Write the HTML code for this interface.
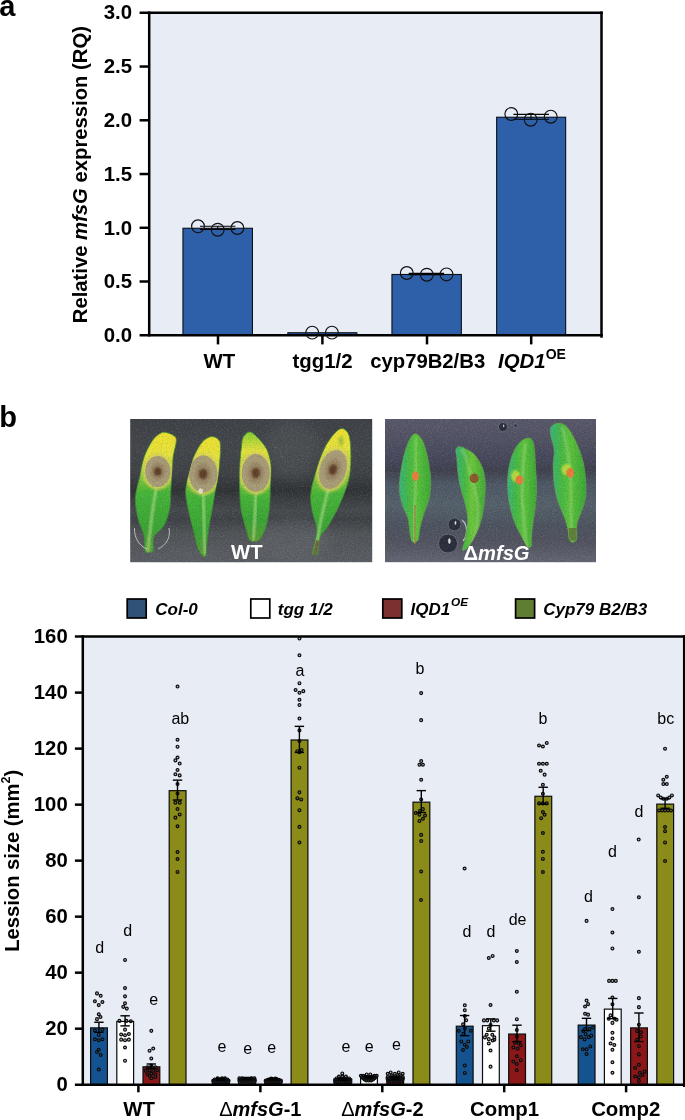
<!DOCTYPE html>
<html lang="en"><head><meta charset="utf-8"><title>Figure</title>
<style>
html,body{margin:0;padding:0;background:#fff}
svg{display:block}
svg text{font-family:"Liberation Sans", sans-serif}
</style></head>
<body>
<svg width="685" height="1120" viewBox="0 0 685 1120">
<rect width="685" height="1120" fill="#fff"/>
<g id="chartA">
<rect x="149.2" y="12.8" width="452.3" height="322.45" fill="#E8ECF5"/>
<rect x="182.95" y="228.27" width="69.5" height="106.98" fill="#2E5FA9" stroke="#0b0f18" stroke-width="1.1"/>
<rect x="287.85" y="332.74" width="69" height="2.51" fill="#2E5FA9" stroke="#0b0f18" stroke-width="1.1"/>
<rect x="391.95" y="274.48" width="69.4" height="60.77" fill="#2E5FA9" stroke="#0b0f18" stroke-width="1.1"/>
<rect x="496.65" y="117.24" width="69" height="218.01" fill="#2E5FA9" stroke="#0b0f18" stroke-width="1.1"/>
<line x1="200" y1="226.3" x2="235.4" y2="226.3" stroke="#000" stroke-width="1.1" stroke-linecap="butt"/>
<line x1="200" y1="229.4" x2="235.4" y2="229.4" stroke="#000" stroke-width="1.1" stroke-linecap="butt"/>
<line x1="217.7" y1="226.3" x2="217.7" y2="229.4" stroke="#000" stroke-width="1.1" stroke-linecap="butt"/>
<line x1="408.7" y1="273.5" x2="444.1" y2="273.5" stroke="#000" stroke-width="1.3" stroke-linecap="butt"/>
<line x1="408.7" y1="274.6" x2="444.1" y2="274.6" stroke="#000" stroke-width="1.3" stroke-linecap="butt"/>
<line x1="426.8" y1="273.5" x2="426.8" y2="274.6" stroke="#000" stroke-width="1.3" stroke-linecap="butt"/>
<line x1="513.4" y1="114.4" x2="548.9" y2="114.4" stroke="#000" stroke-width="1.1" stroke-linecap="butt"/>
<line x1="513.4" y1="119.3" x2="548.9" y2="119.3" stroke="#000" stroke-width="1.1" stroke-linecap="butt"/>
<line x1="531" y1="114.4" x2="531" y2="119.3" stroke="#000" stroke-width="1.1" stroke-linecap="butt"/>
<line x1="149.2" y1="11.55" x2="149.2" y2="336.5" stroke="#000" stroke-width="2.5" stroke-linecap="butt"/>
<line x1="139.6" y1="12.8" x2="602.75" y2="12.8" stroke="#000" stroke-width="2.5" stroke-linecap="butt"/>
<line x1="601.5" y1="11.55" x2="601.5" y2="337.7" stroke="#000" stroke-width="2.5" stroke-linecap="butt"/>
<line x1="139.6" y1="335.25" x2="602.75" y2="335.25" stroke="#000" stroke-width="2.5" stroke-linecap="butt"/>
<text x="132.1" y="342.15" font-size="20.4" font-weight="bold" text-anchor="end" fill="#000">0.0</text>
<line x1="139.6" y1="281.51" x2="149.2" y2="281.51" stroke="#000" stroke-width="2.5" stroke-linecap="butt"/>
<text x="132.1" y="288.31" font-size="20.4" font-weight="bold" text-anchor="end" fill="#000">0.5</text>
<line x1="139.6" y1="227.77" x2="149.2" y2="227.77" stroke="#000" stroke-width="2.5" stroke-linecap="butt"/>
<text x="132.1" y="234.57" font-size="20.4" font-weight="bold" text-anchor="end" fill="#000">1.0</text>
<line x1="139.6" y1="174.03" x2="149.2" y2="174.03" stroke="#000" stroke-width="2.5" stroke-linecap="butt"/>
<text x="132.1" y="180.83" font-size="20.4" font-weight="bold" text-anchor="end" fill="#000">1.5</text>
<line x1="139.6" y1="120.28" x2="149.2" y2="120.28" stroke="#000" stroke-width="2.5" stroke-linecap="butt"/>
<text x="132.1" y="126.58" font-size="20.4" font-weight="bold" text-anchor="end" fill="#000">2.0</text>
<line x1="139.6" y1="66.54" x2="149.2" y2="66.54" stroke="#000" stroke-width="2.5" stroke-linecap="butt"/>
<text x="132.1" y="72.84" font-size="20.4" font-weight="bold" text-anchor="end" fill="#000">2.5</text>
<text x="132.1" y="19.1" font-size="20.4" font-weight="bold" text-anchor="end" fill="#000">3.0</text>
<line x1="218" y1="335.25" x2="218" y2="344.4" stroke="#000" stroke-width="2.5" stroke-linecap="butt"/>
<line x1="322.4" y1="335.25" x2="322.4" y2="344.4" stroke="#000" stroke-width="2.5" stroke-linecap="butt"/>
<line x1="427" y1="335.25" x2="427" y2="344.4" stroke="#000" stroke-width="2.5" stroke-linecap="butt"/>
<line x1="531.2" y1="335.25" x2="531.2" y2="344.4" stroke="#000" stroke-width="2.5" stroke-linecap="butt"/>
<circle cx="198" cy="226.3" r="6.4" fill="none" stroke="#111" stroke-width="1.15"/>
<circle cx="217.7" cy="229.7" r="6.4" fill="none" stroke="#111" stroke-width="1.15"/>
<circle cx="237.4" cy="228" r="6.4" fill="none" stroke="#111" stroke-width="1.15"/>
<circle cx="312.2" cy="332.6" r="6.4" fill="none" stroke="#111" stroke-width="1.15"/>
<circle cx="331.9" cy="332.6" r="6.4" fill="none" stroke="#111" stroke-width="1.15"/>
<circle cx="406.8" cy="273" r="6.4" fill="none" stroke="#111" stroke-width="1.15"/>
<circle cx="426.8" cy="274.7" r="6.4" fill="none" stroke="#111" stroke-width="1.15"/>
<circle cx="446.5" cy="274.4" r="6.4" fill="none" stroke="#111" stroke-width="1.15"/>
<circle cx="511.3" cy="114" r="6.4" fill="none" stroke="#111" stroke-width="1.15"/>
<circle cx="530.7" cy="119.7" r="6.4" fill="none" stroke="#111" stroke-width="1.15"/>
<circle cx="550.7" cy="116.7" r="6.4" fill="none" stroke="#111" stroke-width="1.15"/>
<text x="219.3" y="368.1" font-size="20.4" font-weight="bold" text-anchor="middle" fill="#000">WT</text>
<text x="322.6" y="368.1" font-size="20.4" font-weight="bold" text-anchor="middle" fill="#000">tgg1/2</text>
<text x="427.7" y="368.1" font-size="20.3" font-weight="bold" text-anchor="middle" fill="#000">cyp79B2/B3</text>
<text x="532" y="367.9" font-size="20.4" font-weight="bold" text-anchor="middle"><tspan font-style="italic">IQD1</tspan><tspan font-size="14" dy="-8.5">OE</tspan></text>
<text transform="translate(87.2,323.2) rotate(-90)" font-size="20.25" font-weight="bold">Relative <tspan font-style="italic">mfsG</tspan> expression (RQ)</text>
<text x="-0.7" y="15.7" font-size="29" font-weight="bold" text-anchor="start" fill="#000">a</text>
</g>
<g id="photos">
<defs>
<filter id="bl1" x="-10%" y="-10%" width="120%" height="120%"><feGaussianBlur stdDeviation="0.7"/></filter>
<filter id="bl2" x="-30%" y="-30%" width="160%" height="160%"><feGaussianBlur stdDeviation="2.2"/></filter>
<filter id="bl3" x="-30%" y="-30%" width="160%" height="160%"><feGaussianBlur stdDeviation="1.2"/></filter>
<filter id="bl6" x="-30%" y="-30%" width="160%" height="160%"><feGaussianBlur stdDeviation="6"/></filter>
<linearGradient id="bgA" x1="0" y1="0" x2="0" y2="1"><stop offset="0" stop-color="#3e4146"/><stop offset="0.2" stop-color="#43464a"/><stop offset="0.38" stop-color="#3f4245"/><stop offset="0.5" stop-color="#303335"/><stop offset="0.56" stop-color="#3b3e41"/><stop offset="0.64" stop-color="#46494d"/><stop offset="0.7" stop-color="#3e4145"/><stop offset="0.8" stop-color="#505357"/><stop offset="1" stop-color="#5a5d63"/></linearGradient>
<linearGradient id="bgB" x1="0" y1="0" x2="0" y2="1"><stop offset="0" stop-color="#58586b"/><stop offset="0.15" stop-color="#505162"/><stop offset="0.28" stop-color="#46475b"/><stop offset="0.36" stop-color="#40414e"/><stop offset="0.46" stop-color="#4e5866"/><stop offset="0.6" stop-color="#54606a"/><stop offset="0.75" stop-color="#4c535f"/><stop offset="0.86" stop-color="#51535f"/><stop offset="1" stop-color="#636573"/></linearGradient>
<filter id="nz" x="0" y="0" width="100%" height="100%"><feTurbulence type="fractalNoise" baseFrequency="0.8" numOctaves="2" seed="3" result="t"/><feColorMatrix in="t" type="matrix" values="0 0 0 0 1  0 0 0 0 1  0 0 0 0 1  1.6 0 0 0 -0.78"/></filter><filter id="nzk" x="0" y="0" width="100%" height="100%"><feTurbulence type="fractalNoise" baseFrequency="0.8" numOctaves="2" seed="11" result="t"/><feColorMatrix in="t" type="matrix" values="0 0 0 0 0  0 0 0 0 0  0 0 0 0 0  1.6 0 0 0 -0.78"/></filter>
<clipPath id="cpA"><rect x="130.2" y="419" width="242" height="143.2"/></clipPath>
<clipPath id="cpB"><rect x="385" y="419" width="211" height="143.2"/></clipPath>
</defs>
<rect x="130.2" y="419" width="242" height="143.2" fill="url(#bgA)"/>
<g clip-path="url(#cpA)">
<ellipse cx="292" cy="448" rx="26" ry="30" fill="#5a5e62" opacity="0.35" filter="url(#bl6)"/>
<ellipse cx="292" cy="540" rx="40" ry="22" fill="#666a70" opacity="0.45" filter="url(#bl6)"/>
<ellipse cx="200" cy="556" rx="60" ry="8" fill="#5c6066" opacity="0.6" filter="url(#bl6)"/>
<linearGradient id="lgA1" gradientUnits="userSpaceOnUse" x1="0" y1="432.4" x2="0" y2="552.3"><stop offset="0" stop-color="#ecdf2e"/><stop offset="0.19" stop-color="#e6e23c"/><stop offset="0.50" stop-color="#46b438"/><stop offset="0.8" stop-color="#39a434"/><stop offset="1" stop-color="#5a9a38"/></linearGradient>
<clipPath id="lcA1"><path d="M165.8,432.4C168.2,432.8 173,434.5 174.7,436.2C176.5,437.8 176.5,439 176.2,442.3C176,445.5 174.1,450.5 173.4,455.5C172.7,460.6 172.3,466.9 171.9,472.6C171.5,478.3 171.3,483.7 170.9,489.7C170.5,495.7 170.8,502.7 169.6,508.7C168.4,514.7 166.5,521.1 163.9,525.8C161.3,530.5 155.6,532.7 153.8,536.8C152.1,540.9 154.3,547.9 153.5,550.4C152.6,553 150.1,552.3 148.7,552.3C147.3,552.3 145.7,553.3 144.9,550.4C144.1,547.6 145.1,540.6 144,535.3C142.8,529.9 139.3,524.5 137.9,518.2C136.5,511.9 135.1,504.3 135.4,497.3C135.8,490.3 138.4,483.1 139.8,476.4C141.2,469.8 141.9,463.5 144,457.4C146.1,451.4 149.8,444.4 152.5,440.4C155.2,436.4 157.9,434.9 160.1,433.5C162.3,432.2 163.4,432 165.8,432.4Z"/></clipPath>
<g filter="url(#bl1)"><path d="M165.8,432.4C168.2,432.8 173,434.5 174.7,436.2C176.5,437.8 176.5,439 176.2,442.3C176,445.5 174.1,450.5 173.4,455.5C172.7,460.6 172.3,466.9 171.9,472.6C171.5,478.3 171.3,483.7 170.9,489.7C170.5,495.7 170.8,502.7 169.6,508.7C168.4,514.7 166.5,521.1 163.9,525.8C161.3,530.5 155.6,532.7 153.8,536.8C152.1,540.9 154.3,547.9 153.5,550.4C152.6,553 150.1,552.3 148.7,552.3C147.3,552.3 145.7,553.3 144.9,550.4C144.1,547.6 145.1,540.6 144,535.3C142.8,529.9 139.3,524.5 137.9,518.2C136.5,511.9 135.1,504.3 135.4,497.3C135.8,490.3 138.4,483.1 139.8,476.4C141.2,469.8 141.9,463.5 144,457.4C146.1,451.4 149.8,444.4 152.5,440.4C155.2,436.4 157.9,434.9 160.1,433.5C162.3,432.2 163.4,432 165.8,432.4Z" fill="url(#lgA1)" stroke="#3c8a34" stroke-width="0.8"/>
<g clip-path="url(#lcA1)">
<path d="M157,485C157.7,478.8 153.5,503.8 152,515C150.5,526.2 147.2,557 148,552" fill="none" stroke="#b4e08a" stroke-width="2.4" opacity="0.8" filter="url(#bl3)"/>
<ellipse cx="157.8" cy="471.5" rx="15.6" ry="18.5" fill="#d9d05a" opacity="0.8" filter="url(#bl3)" transform="rotate(0 157.8 471.5)"/>
<ellipse cx="157.8" cy="471.5" rx="12.6" ry="15.5" fill="#a89c76" filter="url(#bl1)" transform="rotate(0 157.8 471.5)"/>
<ellipse cx="157.8" cy="471.5" rx="7.6" ry="9" fill="#9a8866" filter="url(#bl3)" transform="rotate(0 157.8 471.5)"/>
<ellipse cx="157.8" cy="471.5" rx="3.8" ry="4.3" fill="#5e3c28" filter="url(#bl3)" transform="rotate(0 157.8 471.5)"/>
</g></g>
<linearGradient id="lgA2" gradientUnits="userSpaceOnUse" x1="0" y1="436.6" x2="0" y2="555.8"><stop offset="0" stop-color="#ecdf2e"/><stop offset="0.18" stop-color="#e6e23c"/><stop offset="0.50" stop-color="#46b438"/><stop offset="0.8" stop-color="#39a434"/><stop offset="1" stop-color="#5a9a38"/></linearGradient>
<clipPath id="lcA2"><path d="M211.4,436.6C214.1,436.3 217.4,438.1 218.9,440C220.5,441.9 220.3,444.7 220.5,448C220.6,451.2 220.3,454.6 219.9,459.3C219.5,464.1 218.8,471 218,476.4C217.2,481.8 216.1,486.2 215.1,491.6C214.2,497 213.3,503.3 212.3,508.7C211.4,514.1 210.3,518.2 209.5,523.9C208.6,529.6 207.6,537.6 207,542.9C206.4,548.1 206.7,553 206,555.2C205.3,557.3 204.1,556.9 202.8,555.8C201.5,554.7 199.7,553.2 198.1,548.5C196.4,543.9 194.4,534.3 192.8,527.7C191.1,521 189.2,515 188,508.7C186.8,502.4 185.4,496 185.7,489.7C186,483.4 188.4,476.6 189.9,470.7C191.4,464.9 192.8,459.4 194.8,454.6C196.9,449.8 199.7,444.9 202.4,441.9C205.2,438.9 208.6,436.9 211.4,436.6Z"/></clipPath>
<g filter="url(#bl1)"><path d="M211.4,436.6C214.1,436.3 217.4,438.1 218.9,440C220.5,441.9 220.3,444.7 220.5,448C220.6,451.2 220.3,454.6 219.9,459.3C219.5,464.1 218.8,471 218,476.4C217.2,481.8 216.1,486.2 215.1,491.6C214.2,497 213.3,503.3 212.3,508.7C211.4,514.1 210.3,518.2 209.5,523.9C208.6,529.6 207.6,537.6 207,542.9C206.4,548.1 206.7,553 206,555.2C205.3,557.3 204.1,556.9 202.8,555.8C201.5,554.7 199.7,553.2 198.1,548.5C196.4,543.9 194.4,534.3 192.8,527.7C191.1,521 189.2,515 188,508.7C186.8,502.4 185.4,496 185.7,489.7C186,483.4 188.4,476.6 189.9,470.7C191.4,464.9 192.8,459.4 194.8,454.6C196.9,449.8 199.7,444.9 202.4,441.9C205.2,438.9 208.6,436.9 211.4,436.6Z" fill="url(#lgA2)" stroke="#3c8a34" stroke-width="0.8"/>
<g clip-path="url(#lcA2)">
<path d="M203,490C202.8,484.5 203.7,509.5 204,520C204.3,530.5 205.2,558 205,553" fill="none" stroke="#b4e08a" stroke-width="2.4" opacity="0.8" filter="url(#bl3)"/>
<ellipse cx="203.2" cy="474" rx="17.2" ry="21.5" fill="#d9d05a" opacity="0.8" filter="url(#bl3)" transform="rotate(0 203.2 474)"/>
<ellipse cx="203.2" cy="474" rx="14.2" ry="18.5" fill="#a89c76" filter="url(#bl1)" transform="rotate(0 203.2 474)"/>
<ellipse cx="203.2" cy="474" rx="8.5" ry="10.7" fill="#9a8866" filter="url(#bl3)" transform="rotate(0 203.2 474)"/>
<ellipse cx="203.2" cy="474" rx="4.3" ry="5.2" fill="#5e3c28" filter="url(#bl3)" transform="rotate(0 203.2 474)"/>
</g></g>
<linearGradient id="lgA3" gradientUnits="userSpaceOnUse" x1="0" y1="431.9" x2="0" y2="541.4"><stop offset="0" stop-color="#86cc34"/><stop offset="0.18" stop-color="#e6e23c"/><stop offset="0.59" stop-color="#46b438"/><stop offset="0.8" stop-color="#39a434"/><stop offset="1" stop-color="#5a9a38"/></linearGradient>
<clipPath id="lcA3"><path d="M249.7,431.9C252.2,432 255.2,435.1 258,438C260.9,440.9 264.7,445 266.8,449.4C268.9,453.9 270.1,458.5 270.7,464.7C271.3,470.9 270.5,479.3 270.3,486.6C270.1,493.9 270.2,501.6 269.4,508.5C268.6,515.5 267.1,523.1 265.5,528.2C263.8,533.4 261.5,537.4 259.6,539.6C257.7,541.8 255.8,541.4 254.1,541.4C252.4,541.4 250.7,541.8 249.3,539.6C247.9,537.4 247.2,533.4 245.8,528.2C244.4,523.1 242,515.5 240.9,508.5C239.9,501.6 239.8,493.9 239.6,486.6C239.5,479.3 239.6,471.3 239.9,464.7C240.1,458.2 240.8,451.8 241.4,447.2C241.9,442.7 241.8,439.9 243.1,437.4C244.5,434.8 247.2,431.8 249.7,431.9Z"/></clipPath>
<g filter="url(#bl1)"><path d="M249.7,431.9C252.2,432 255.2,435.1 258,438C260.9,440.9 264.7,445 266.8,449.4C268.9,453.9 270.1,458.5 270.7,464.7C271.3,470.9 270.5,479.3 270.3,486.6C270.1,493.9 270.2,501.6 269.4,508.5C268.6,515.5 267.1,523.1 265.5,528.2C263.8,533.4 261.5,537.4 259.6,539.6C257.7,541.8 255.8,541.4 254.1,541.4C252.4,541.4 250.7,541.8 249.3,539.6C247.9,537.4 247.2,533.4 245.8,528.2C244.4,523.1 242,515.5 240.9,508.5C239.9,501.6 239.8,493.9 239.6,486.6C239.5,479.3 239.6,471.3 239.9,464.7C240.1,458.2 240.8,451.8 241.4,447.2C241.9,442.7 241.8,439.9 243.1,437.4C244.5,434.8 247.2,431.8 249.7,431.9Z" fill="url(#lgA3)" stroke="#3c8a34" stroke-width="0.8"/>
<g clip-path="url(#lcA3)">
<path d="M256,490C256.3,485.8 255.5,506.7 255,515C254.5,523.3 252.8,544.2 253,540" fill="none" stroke="#b4e08a" stroke-width="2.4" opacity="0.8" filter="url(#bl3)"/>
<ellipse cx="255.8" cy="473" rx="17" ry="22" fill="#d9d05a" opacity="0.8" filter="url(#bl3)" transform="rotate(0 255.8 473)"/>
<ellipse cx="255.8" cy="473" rx="14" ry="19" fill="#a89c76" filter="url(#bl1)" transform="rotate(0 255.8 473)"/>
<ellipse cx="255.8" cy="473" rx="8.4" ry="11" fill="#9a8866" filter="url(#bl3)" transform="rotate(0 255.8 473)"/>
<ellipse cx="255.8" cy="473" rx="4.2" ry="5.3" fill="#5e3c28" filter="url(#bl3)" transform="rotate(0 255.8 473)"/>
</g></g>
<linearGradient id="lgA4" gradientUnits="userSpaceOnUse" x1="0" y1="428.6" x2="0" y2="554.5"><stop offset="0" stop-color="#ecdf2e"/><stop offset="0.15" stop-color="#e6e23c"/><stop offset="0.52" stop-color="#46b438"/><stop offset="0.8" stop-color="#39a434"/><stop offset="1" stop-color="#5a9a38"/></linearGradient>
<clipPath id="lcA4"><path d="M341.7,428.6C344.4,428.5 347.4,431 348.9,435.2C350.4,439.4 350.8,447 350.9,453.8C351,460.5 350.6,469.1 349.6,475.7C348.5,482.3 346.3,487.7 344.3,493.2C342.3,498.7 340.5,502.9 337.7,508.5C334.9,514.2 330.4,522.4 327.4,527.1C324.5,531.9 321.8,532.6 320.2,537C318.6,541.4 319,550.5 318,553.4C317,556.3 315.2,554.7 314.3,554.5C313.4,554.3 312.2,554.5 312.3,552.3C312.4,550.1 314.2,545.4 315,541.4C315.7,537.4 317.2,533.3 316.7,528.2C316.2,523.1 313.1,516.6 312.1,510.7C311.1,504.9 310.1,499.8 310.8,493.2C311.5,486.6 313.9,478.5 316.1,471.3C318.2,464.1 321,455.8 323.7,449.9C326.5,443.9 329.5,439.4 332.5,435.8C335.5,432.3 338.9,428.7 341.7,428.6Z"/></clipPath>
<g filter="url(#bl1)"><path d="M341.7,428.6C344.4,428.5 347.4,431 348.9,435.2C350.4,439.4 350.8,447 350.9,453.8C351,460.5 350.6,469.1 349.6,475.7C348.5,482.3 346.3,487.7 344.3,493.2C342.3,498.7 340.5,502.9 337.7,508.5C334.9,514.2 330.4,522.4 327.4,527.1C324.5,531.9 321.8,532.6 320.2,537C318.6,541.4 319,550.5 318,553.4C317,556.3 315.2,554.7 314.3,554.5C313.4,554.3 312.2,554.5 312.3,552.3C312.4,550.1 314.2,545.4 315,541.4C315.7,537.4 317.2,533.3 316.7,528.2C316.2,523.1 313.1,516.6 312.1,510.7C311.1,504.9 310.1,499.8 310.8,493.2C311.5,486.6 313.9,478.5 316.1,471.3C318.2,464.1 321,455.8 323.7,449.9C326.5,443.9 329.5,439.4 332.5,435.8C335.5,432.3 338.9,428.7 341.7,428.6Z" fill="url(#lgA4)" stroke="#3c8a34" stroke-width="0.8"/>
<g clip-path="url(#lcA4)">
<path d="M329,488C330,482.2 324.2,504.7 322,515C319.8,525.3 314.8,554.5 316,550" fill="none" stroke="#b4e08a" stroke-width="2.4" opacity="0.8" filter="url(#bl3)"/>
<ellipse cx="333" cy="469.5" rx="16.2" ry="23" fill="#d9d05a" opacity="0.8" filter="url(#bl3)" transform="rotate(18 333 469.5)"/>
<ellipse cx="333" cy="469.5" rx="13.2" ry="20" fill="#a89c76" filter="url(#bl1)" transform="rotate(18 333 469.5)"/>
<ellipse cx="333" cy="469.5" rx="7.9" ry="11.6" fill="#9a8866" filter="url(#bl3)" transform="rotate(18 333 469.5)"/>
<ellipse cx="333" cy="469.5" rx="4" ry="5.6" fill="#5e3c28" filter="url(#bl3)" transform="rotate(18 333 469.5)"/>
</g></g>
<path d="M134.5,528 C134,537 139,546 147,549" fill="none" stroke="#e8e8e8" stroke-width="0.9" opacity="0.8"/>
<path d="M169,528 C171,538 166,545 158,549" fill="none" stroke="#e8e8e8" stroke-width="0.9" opacity="0.8"/>
<path d="M316,540 L313,554 L317,555 L320,541Z" fill="#6b6a45" filter="url(#bl1)"/>
<ellipse cx="200.6" cy="491" rx="2.2" ry="2.8" fill="#e9ecd8" opacity="0.85" filter="url(#bl1)"/>
<ellipse cx="341" cy="441" rx="2.5" ry="5" fill="#8cb83a" opacity="0.7" filter="url(#bl3)"/>
<rect x="130.2" y="419" width="242" height="143.2" fill="#fff" opacity="0.2" filter="url(#nz)"/>
<rect x="130.2" y="419" width="242" height="143.2" fill="#000" opacity="0.22" filter="url(#nzk)"/>
</g>
<text x="246.8" y="559.1" font-size="20.3" font-weight="bold" text-anchor="middle" fill="#fff">WT</text>
<rect x="385" y="419" width="211" height="143.2" fill="url(#bgB)"/>
<g clip-path="url(#cpB)">
<circle cx="454.5" cy="524.5" r="6.5" fill="#2b2f3a" stroke="#6b7280" stroke-width="0.8" filter="url(#bl1)"/>
<ellipse cx="455.5" cy="522.9" rx="0.9" ry="1.9" fill="#fff" opacity="0.85" filter="url(#bl1)"/>
<circle cx="448" cy="543.5" r="9.5" fill="#2b2f3a" stroke="#6b7280" stroke-width="0.8" filter="url(#bl1)"/>
<ellipse cx="449.4" cy="541.1" rx="1.3" ry="2.9" fill="#fff" opacity="0.85" filter="url(#bl1)"/>
<circle cx="503" cy="427" r="4.6" fill="#2b2f3a" stroke="#6b7280" stroke-width="0.8" filter="url(#bl1)"/>
<ellipse cx="503.7" cy="425.9" rx="0.6" ry="1.4" fill="#fff" opacity="0.85" filter="url(#bl1)"/>
<circle cx="516" cy="425.5" r="2" fill="#2b2f3a" stroke="#6b7280" stroke-width="0.8" filter="url(#bl1)"/>
<ellipse cx="516.3" cy="425" rx="0.3" ry="0.6" fill="#fff" opacity="0.85" filter="url(#bl1)"/>
<path d="M462,520 C468,525 468,535 463,541" fill="none" stroke="#dfe6f2" stroke-width="1.4" opacity="0.7" filter="url(#bl1)"/>
<linearGradient id="lgB1" gradientUnits="userSpaceOnUse" x1="399.3" y1="0" x2="430.8" y2="0"><stop offset="0" stop-color="#38b27c"/><stop offset="0.3" stop-color="#46b844"/><stop offset="0.55" stop-color="#5cc23a"/><stop offset="1" stop-color="#3aa838"/></linearGradient>
<clipPath id="lcB1"><path d="M415.9,433.7C417.8,434 420.4,437 422,439.8C423.7,442.6 424.8,446.5 425.9,450.3C427,454.1 427.9,457.6 428.7,462.6C429.5,467.5 430.7,474.2 430.8,480.1C430.9,485.9 430.6,491.8 429.4,497.6C428.2,503.4 425.1,509.9 423.4,515.1C421.8,520.4 420.7,525 419.8,529.1C418.9,533.3 419.2,537.9 418,540C416.8,542.1 413.8,543 412.4,541.7C411,540.5 410.5,536.5 409.8,532.6C409.1,528.8 409.3,523.3 408,518.6C406.8,513.9 403.7,509.6 402.2,504.6C400.8,499.6 399.5,494.7 399.3,488.8C399.1,483 400,476 401,469.6C402,463.1 403.8,455.6 405.4,450.3C407,445 408.9,440.5 410.7,437.7C412.4,434.9 414,433.3 415.9,433.7Z"/></clipPath>
<g filter="url(#bl1)"><path d="M415.9,433.7C417.8,434 420.4,437 422,439.8C423.7,442.6 424.8,446.5 425.9,450.3C427,454.1 427.9,457.6 428.7,462.6C429.5,467.5 430.7,474.2 430.8,480.1C430.9,485.9 430.6,491.8 429.4,497.6C428.2,503.4 425.1,509.9 423.4,515.1C421.8,520.4 420.7,525 419.8,529.1C418.9,533.3 419.2,537.9 418,540C416.8,542.1 413.8,543 412.4,541.7C411,540.5 410.5,536.5 409.8,532.6C409.1,528.8 409.3,523.3 408,518.6C406.8,513.9 403.7,509.6 402.2,504.6C400.8,499.6 399.5,494.7 399.3,488.8C399.1,483 400,476 401,469.6C402,463.1 403.8,455.6 405.4,450.3C407,445 408.9,440.5 410.7,437.7C412.4,434.9 414,433.3 415.9,433.7Z" fill="url(#lgB1)" stroke="#6fa04a" stroke-width="0.6"/>
<g clip-path="url(#lcB1)">
<path d="M416,440C416.3,430 416.3,468.3 416,480C415.7,491.7 414.3,500 414,510C413.7,520 413.7,551.7 414,540" fill="none" stroke="#a5d68c" stroke-width="1.8" opacity="0.7" filter="url(#bl3)"/>
<ellipse cx="415.4" cy="476.2" rx="3.4" ry="4.8" fill="#e6803c" filter="url(#bl1)"/>
</g></g>
<linearGradient id="lgB2" gradientUnits="userSpaceOnUse" x1="455.7" y1="0" x2="485.3" y2="0"><stop offset="0" stop-color="#38b27c"/><stop offset="0.3" stop-color="#46b844"/><stop offset="0.55" stop-color="#6cc638"/><stop offset="1" stop-color="#40aa38"/></linearGradient>
<clipPath id="lcB2"><path d="M455.7,449.9C456.1,448.1 457.5,446.6 459.2,446.4C460.9,446.3 463.3,447.5 465.8,448.9C468.4,450.3 471.8,451.5 474.6,454.7C477.4,457.8 480.7,463 482.5,467.8C484.3,472.6 485,478 485.3,483.6C485.6,489.1 485,495.3 484.4,501.1C483.8,506.9 482.9,513.4 481.6,518.6C480.3,523.9 478.7,528.3 476.7,532.6C474.7,537 472,541.9 469.7,544.9C467.4,547.9 463.4,551.8 462.7,550.5C462,549.2 464.7,542.3 465.5,537C466.3,531.7 467.8,524.6 467.6,518.6C467.4,512.6 465.7,506.6 464.4,501.1C463.2,495.6 461.1,490.9 459.9,485.3C458.7,479.8 458,472.5 457.4,467.8C456.9,463.1 457,460.3 456.7,457.3C456.4,454.3 455.3,451.8 455.7,449.9Z"/></clipPath>
<g filter="url(#bl1)"><path d="M455.7,449.9C456.1,448.1 457.5,446.6 459.2,446.4C460.9,446.3 463.3,447.5 465.8,448.9C468.4,450.3 471.8,451.5 474.6,454.7C477.4,457.8 480.7,463 482.5,467.8C484.3,472.6 485,478 485.3,483.6C485.6,489.1 485,495.3 484.4,501.1C483.8,506.9 482.9,513.4 481.6,518.6C480.3,523.9 478.7,528.3 476.7,532.6C474.7,537 472,541.9 469.7,544.9C467.4,547.9 463.4,551.8 462.7,550.5C462,549.2 464.7,542.3 465.5,537C466.3,531.7 467.8,524.6 467.6,518.6C467.4,512.6 465.7,506.6 464.4,501.1C463.2,495.6 461.1,490.9 459.9,485.3C458.7,479.8 458,472.5 457.4,467.8C456.9,463.1 457,460.3 456.7,457.3C456.4,454.3 455.3,451.8 455.7,449.9Z" fill="url(#lgB2)" stroke="#6fa04a" stroke-width="0.6"/>
<g clip-path="url(#lcB2)">
<path d="M462,452C462,442 469.3,470.3 472,480C474.7,489.7 478,500 478,510C478,520 474.7,549.7 472,540" fill="none" stroke="#a5d68c" stroke-width="1.8" opacity="0.7" filter="url(#bl3)"/>
<ellipse cx="474.2" cy="478.3" rx="4.6" ry="4.8" fill="#8a5a2a" filter="url(#bl1)"/>
</g></g>
<linearGradient id="lgB3" gradientUnits="userSpaceOnUse" x1="507.5" y1="0" x2="536.6" y2="0"><stop offset="0" stop-color="#38b27c"/><stop offset="0.3" stop-color="#46b844"/><stop offset="0.55" stop-color="#5cc23a"/><stop offset="1" stop-color="#3aa838"/></linearGradient>
<clipPath id="lcB3"><path d="M528.9,438C531.2,438.3 532.7,439.5 533.8,444.2C534.9,448.8 535.1,458.9 535.6,466.1C536,473.2 536.6,480.7 536.6,487.1C536.6,493.5 536.1,498.8 535.6,504.6C535,510.4 533.8,516.9 533.1,522.1C532.4,527.4 531.8,532.2 531.5,536.1C531.2,540.1 532,544 531.3,545.8C530.7,547.6 529.3,548.5 527.7,547C526,545.5 523.7,540.6 521.5,536.5C519.3,532.3 516.5,527.4 514.5,522.1C512.5,516.8 510.8,510.4 509.6,504.6C508.5,498.8 507.7,492.9 507.5,487.1C507.3,481.2 507.7,475.1 508.6,469.6C509.4,464 510.9,458.3 512.8,453.8C514.6,449.3 517.1,445 519.8,442.4C522.5,439.8 526.6,437.7 528.9,438Z"/></clipPath>
<g filter="url(#bl1)"><path d="M528.9,438C531.2,438.3 532.7,439.5 533.8,444.2C534.9,448.8 535.1,458.9 535.6,466.1C536,473.2 536.6,480.7 536.6,487.1C536.6,493.5 536.1,498.8 535.6,504.6C535,510.4 533.8,516.9 533.1,522.1C532.4,527.4 531.8,532.2 531.5,536.1C531.2,540.1 532,544 531.3,545.8C530.7,547.6 529.3,548.5 527.7,547C526,545.5 523.7,540.6 521.5,536.5C519.3,532.3 516.5,527.4 514.5,522.1C512.5,516.8 510.8,510.4 509.6,504.6C508.5,498.8 507.7,492.9 507.5,487.1C507.3,481.2 507.7,475.1 508.6,469.6C509.4,464 510.9,458.3 512.8,453.8C514.6,449.3 517.1,445 519.8,442.4C522.5,439.8 526.6,437.7 528.9,438Z" fill="url(#lgB3)" stroke="#6fa04a" stroke-width="0.6"/>
<g clip-path="url(#lcB3)">
<path d="M526,445C525.2,435.8 522.3,477.5 522,490C521.7,502.5 523.2,510.8 524,520C524.8,529.2 526.7,557.5 527,545" fill="none" stroke="#a5d68c" stroke-width="1.8" opacity="0.7" filter="url(#bl3)"/>
<ellipse cx="515.5" cy="476" rx="4.5" ry="6" fill="#cfe03e" opacity="0.8" filter="url(#bl3)"/>
<ellipse cx="519.4" cy="480" rx="3.8" ry="4.6" fill="#e6783a" filter="url(#bl1)"/>
</g></g>
<linearGradient id="lgB4" gradientUnits="userSpaceOnUse" x1="550.4" y1="0" x2="585.7" y2="0"><stop offset="0" stop-color="#38b27c"/><stop offset="0.3" stop-color="#46b844"/><stop offset="0.55" stop-color="#5cc23a"/><stop offset="1" stop-color="#3aa838"/></linearGradient>
<clipPath id="lcB4"><path d="M558.7,423.1C561.3,423.2 564.2,424.1 567.1,427.2C569.9,430.2 573.2,435.9 575.8,441.5C578.5,447.1 581.2,454.4 582.9,460.8C584.5,467.2 585.2,473.9 585.7,480.1C586.1,486.2 586.2,492.3 585.5,497.6C584.8,502.9 582.9,507.2 581.5,511.6C580,516 577.9,519.1 577.1,523.9C576.2,528.6 577.4,537.2 576.2,540C575,542.8 571.2,542.8 569.7,540.7C568.3,538.6 568.5,531.6 567.4,527.4C566.4,523.1 565.2,519.5 563.6,515.1C562,510.7 559.4,506.4 557.8,501.1C556.2,495.8 554.9,489.4 554.1,483.6C553.3,477.7 553.1,471.8 553.1,466.1C553.1,460.4 554.6,454.7 554.1,449.4C553.7,444.2 550.9,438.3 550.4,434.5C550,430.7 549.9,428.5 551.3,426.6C552.7,424.7 556,423.1 558.7,423.1Z"/></clipPath>
<g filter="url(#bl1)"><path d="M558.7,423.1C561.3,423.2 564.2,424.1 567.1,427.2C569.9,430.2 573.2,435.9 575.8,441.5C578.5,447.1 581.2,454.4 582.9,460.8C584.5,467.2 585.2,473.9 585.7,480.1C586.1,486.2 586.2,492.3 585.5,497.6C584.8,502.9 582.9,507.2 581.5,511.6C580,516 577.9,519.1 577.1,523.9C576.2,528.6 577.4,537.2 576.2,540C575,542.8 571.2,542.8 569.7,540.7C568.3,538.6 568.5,531.6 567.4,527.4C566.4,523.1 565.2,519.5 563.6,515.1C562,510.7 559.4,506.4 557.8,501.1C556.2,495.8 554.9,489.4 554.1,483.6C553.3,477.7 553.1,471.8 553.1,466.1C553.1,460.4 554.6,454.7 554.1,449.4C553.7,444.2 550.9,438.3 550.4,434.5C550,430.7 549.9,428.5 551.3,426.6C552.7,424.7 556,423.1 558.7,423.1Z" fill="url(#lgB4)" stroke="#6fa04a" stroke-width="0.6"/>
<g clip-path="url(#lcB4)">
<path d="M562,430C561.8,418.7 568.5,456.7 570,470C571.5,483.3 570.8,498.7 571,510C571.2,521.3 572.5,551.3 571,538" fill="none" stroke="#a5d68c" stroke-width="1.8" opacity="0.7" filter="url(#bl3)"/>
<ellipse cx="566.5" cy="469.5" rx="5" ry="5.5" fill="#cfe03e" opacity="0.8" filter="url(#bl3)"/>
<ellipse cx="570.2" cy="472.8" rx="3.9" ry="4.8" fill="#e67a3a" filter="url(#bl1)"/>
</g></g>
<path d="M415,505 L414.5,544" stroke="#a08848" stroke-width="2.6" opacity="0.7" filter="url(#bl1)"/>
<path d="M568.5,528 L576.5,528 L576,540.5 L569.5,541Z" fill="#5f8038" filter="url(#bl1)"/>
<rect x="385" y="419" width="211" height="143.2" fill="#fff" opacity="0.2" filter="url(#nz)"/>
<rect x="385" y="419" width="211" height="143.2" fill="#000" opacity="0.22" filter="url(#nzk)"/>
</g>
<text x="496.5" y="559.8" font-size="20.2" font-weight="bold" text-anchor="middle" fill="#fff">Δ<tspan font-style="italic">mfsG</tspan></text>
</g>
<text x="-0.7" y="426.8" font-size="29" font-weight="bold" text-anchor="start" fill="#000">b</text>
<g id="legend">
<rect x="127.2" y="599" width="19" height="19" fill="#305278" stroke="#000" stroke-width="1.7"/>
<rect x="250.8" y="599" width="19" height="19" fill="#FFFFFF" stroke="#000" stroke-width="1.7"/>
<rect x="382.8" y="599" width="19" height="19" fill="#7C3030" stroke="#000" stroke-width="1.7"/>
<rect x="515.6" y="599" width="19" height="19" fill="#5F7D33" stroke="#000" stroke-width="1.7"/>
<text x="155.3" y="614.5" font-size="17" font-weight="bold" text-anchor="start" font-style="italic" fill="#000">Col-0</text>
<text x="277.8" y="614.5" font-size="17" font-weight="bold" text-anchor="start" font-style="italic" fill="#000">tgg 1/2</text>
<text x="410.6" y="614.5" font-size="17" font-weight="bold" font-style="italic">IQD1<tspan font-size="11.8" dy="-8.1" dx="0.8">OE</tspan></text>
<text x="543.2" y="614.5" font-size="17" font-weight="bold" text-anchor="start" font-style="italic" fill="#000">Cyp79 B2/B3</text>
</g>
<g id="chartB">
<rect x="82.8" y="636.6" width="602.2" height="448.1" fill="#E8ECF5"/>
<rect x="90.6" y="1027.89" width="16.8" height="56.81" fill="#14538F" stroke="#0c0c0c" stroke-width="1.2"/>
<rect x="116.8" y="1021.45" width="16.8" height="63.25" fill="#FFFFFF" stroke="#0c0c0c" stroke-width="1.2"/>
<rect x="143" y="1066.82" width="16.8" height="17.88" fill="#8B1719" stroke="#0c0c0c" stroke-width="1.2"/>
<rect x="169.2" y="790.67" width="16.8" height="294.03" fill="#8B8B19" stroke="#0c0c0c" stroke-width="1.2"/>
<rect x="212.5" y="1079.7" width="16.8" height="5" fill="#14538F" stroke="#0c0c0c" stroke-width="1.2"/>
<rect x="238.7" y="1078.86" width="16.8" height="5.84" fill="#FFFFFF" stroke="#0c0c0c" stroke-width="1.2"/>
<rect x="264.9" y="1079.42" width="16.8" height="5.28" fill="#8B1719" stroke="#0c0c0c" stroke-width="1.2"/>
<rect x="291.1" y="739.98" width="16.8" height="344.72" fill="#8B8B19" stroke="#0c0c0c" stroke-width="1.2"/>
<rect x="334.4" y="1079.98" width="16.8" height="4.72" fill="#14538F" stroke="#0c0c0c" stroke-width="1.2"/>
<rect x="360.6" y="1077.46" width="16.8" height="7.24" fill="#FFFFFF" stroke="#0c0c0c" stroke-width="1.2"/>
<rect x="386.8" y="1078.58" width="16.8" height="6.12" fill="#8B1719" stroke="#0c0c0c" stroke-width="1.2"/>
<rect x="413" y="802.16" width="16.8" height="282.54" fill="#8B8B19" stroke="#0c0c0c" stroke-width="1.2"/>
<rect x="456.3" y="1026.21" width="16.8" height="58.49" fill="#14538F" stroke="#0c0c0c" stroke-width="1.2"/>
<rect x="482.5" y="1025.65" width="16.8" height="59.05" fill="#FFFFFF" stroke="#0c0c0c" stroke-width="1.2"/>
<rect x="508.7" y="1034.05" width="16.8" height="50.65" fill="#8B1719" stroke="#0c0c0c" stroke-width="1.2"/>
<rect x="534.9" y="796.28" width="16.8" height="288.42" fill="#8B8B19" stroke="#0c0c0c" stroke-width="1.2"/>
<rect x="578.2" y="1025.09" width="16.8" height="59.61" fill="#14538F" stroke="#0c0c0c" stroke-width="1.2"/>
<rect x="604.4" y="1009.12" width="16.8" height="75.58" fill="#FFFFFF" stroke="#0c0c0c" stroke-width="1.2"/>
<rect x="630.6" y="1027.89" width="16.8" height="56.81" fill="#8B1719" stroke="#0c0c0c" stroke-width="1.2"/>
<rect x="656.8" y="804.12" width="16.8" height="280.58" fill="#8B8B19" stroke="#0c0c0c" stroke-width="1.2"/>
<g fill="#50555f" fill-opacity="0.35" stroke="#0c0c0c" stroke-width="1.2">
<circle cx="96.99" cy="993.38" r="1.42"/>
<circle cx="100.67" cy="995.83" r="1.42"/>
<circle cx="94.89" cy="1001.26" r="1.42"/>
<circle cx="102.42" cy="1001.96" r="1.42"/>
<circle cx="98.75" cy="1005.12" r="1.42"/>
<circle cx="98.75" cy="1014.23" r="1.42"/>
<circle cx="100.5" cy="1017.03" r="1.42"/>
<circle cx="96.99" cy="1019.13" r="1.42"/>
<circle cx="94.89" cy="1030.52" r="1.42"/>
<circle cx="102.42" cy="1029.64" r="1.42"/>
<circle cx="98.75" cy="1034.9" r="1.42"/>
<circle cx="94.89" cy="1039.28" r="1.42"/>
<circle cx="98.75" cy="1040.15" r="1.42"/>
<circle cx="102.42" cy="1039.28" r="1.42"/>
<circle cx="98.75" cy="1049.79" r="1.42"/>
<circle cx="96.99" cy="1052.07" r="1.42"/>
<circle cx="100.67" cy="1055.05" r="1.42"/>
<circle cx="98.75" cy="1069.59" r="1.42"/>
<circle cx="125.02" cy="959.92" r="1.42"/>
<circle cx="125.02" cy="988.12" r="1.42"/>
<circle cx="125.02" cy="996.36" r="1.42"/>
<circle cx="125.02" cy="1003.36" r="1.42"/>
<circle cx="123.27" cy="1006.87" r="1.42"/>
<circle cx="126.78" cy="1008.62" r="1.42"/>
<circle cx="119.42" cy="1020.88" r="1.42"/>
<circle cx="126.43" cy="1020.88" r="1.42"/>
<circle cx="130.81" cy="1021.23" r="1.42"/>
<circle cx="125.02" cy="1029.64" r="1.42"/>
<circle cx="121.17" cy="1034.55" r="1.42"/>
<circle cx="125.02" cy="1035.25" r="1.42"/>
<circle cx="128.88" cy="1034.02" r="1.42"/>
<circle cx="121.17" cy="1039.63" r="1.42"/>
<circle cx="125.02" cy="1040.15" r="1.42"/>
<circle cx="128.88" cy="1039.63" r="1.42"/>
<circle cx="125.02" cy="1047.51" r="1.42"/>
<circle cx="125.02" cy="1060.65" r="1.42"/>
<circle cx="151.3" cy="1030.87" r="1.42"/>
<circle cx="149.55" cy="1050.67" r="1.42"/>
<circle cx="153.23" cy="1048.56" r="1.42"/>
<circle cx="151.3" cy="1058.55" r="1.42"/>
<circle cx="147.45" cy="1067.31" r="1.42"/>
<circle cx="151.3" cy="1065.56" r="1.42"/>
<circle cx="155.33" cy="1067.31" r="1.42"/>
<circle cx="145.7" cy="1070.81" r="1.42"/>
<circle cx="149.55" cy="1070.29" r="1.42"/>
<circle cx="153.23" cy="1070.81" r="1.42"/>
<circle cx="157.08" cy="1070.29" r="1.42"/>
<circle cx="147.45" cy="1074.32" r="1.42"/>
<circle cx="151.3" cy="1073.79" r="1.42"/>
<circle cx="155.33" cy="1074.32" r="1.42"/>
<circle cx="151.3" cy="1078.35" r="1.42"/>
<circle cx="149.55" cy="1076.07" r="1.42"/>
<circle cx="155.33" cy="1076.94" r="1.42"/>
<circle cx="177.53" cy="686.6" r="1.42"/>
<circle cx="177.53" cy="739.79" r="1.42"/>
<circle cx="177.53" cy="746.65" r="1.42"/>
<circle cx="177.53" cy="757.59" r="1.42"/>
<circle cx="175.39" cy="760.38" r="1.42"/>
<circle cx="179.68" cy="763.59" r="1.42"/>
<circle cx="177.53" cy="770.03" r="1.42"/>
<circle cx="175.39" cy="774.32" r="1.42"/>
<circle cx="179.68" cy="775.39" r="1.42"/>
<circle cx="177.53" cy="783.97" r="1.42"/>
<circle cx="177.53" cy="793.4" r="1.42"/>
<circle cx="175.39" cy="802.63" r="1.42"/>
<circle cx="179.68" cy="802.63" r="1.42"/>
<circle cx="177.53" cy="809.06" r="1.42"/>
<circle cx="179.68" cy="814.42" r="1.42"/>
<circle cx="175.39" cy="817.64" r="1.42"/>
<circle cx="177.53" cy="826.22" r="1.42"/>
<circle cx="177.53" cy="851.96" r="1.42"/>
<circle cx="177.53" cy="859.03" r="1.42"/>
<circle cx="177.53" cy="871.9" r="1.42"/>
<circle cx="299.46" cy="638.58" r="1.42"/>
<circle cx="299.46" cy="655.31" r="1.42"/>
<circle cx="299.46" cy="683.19" r="1.42"/>
<circle cx="295.6" cy="690.05" r="1.42"/>
<circle cx="303.32" cy="691.13" r="1.42"/>
<circle cx="299.46" cy="692.84" r="1.42"/>
<circle cx="299.46" cy="699.71" r="1.42"/>
<circle cx="299.46" cy="705.07" r="1.42"/>
<circle cx="299.46" cy="718.58" r="1.42"/>
<circle cx="299.46" cy="730.38" r="1.42"/>
<circle cx="299.46" cy="741.1" r="1.42"/>
<circle cx="297.32" cy="751.18" r="1.42"/>
<circle cx="301.61" cy="750.11" r="1.42"/>
<circle cx="299.46" cy="752.25" r="1.42"/>
<circle cx="299.46" cy="767.69" r="1.42"/>
<circle cx="299.46" cy="792.36" r="1.42"/>
<circle cx="297.32" cy="798.36" r="1.42"/>
<circle cx="301.18" cy="799.44" r="1.42"/>
<circle cx="299.46" cy="810.16" r="1.42"/>
<circle cx="299.46" cy="826.89" r="1.42"/>
<circle cx="299.46" cy="842.55" r="1.42"/>
<circle cx="421.18" cy="693.11" r="1.42"/>
<circle cx="421.18" cy="720.13" r="1.42"/>
<circle cx="421.18" cy="761.1" r="1.42"/>
<circle cx="419.46" cy="764.75" r="1.42"/>
<circle cx="422.9" cy="764.75" r="1.42"/>
<circle cx="421.18" cy="779.76" r="1.42"/>
<circle cx="421.18" cy="799.49" r="1.42"/>
<circle cx="422.9" cy="809.14" r="1.42"/>
<circle cx="420.11" cy="810.86" r="1.42"/>
<circle cx="415.82" cy="813" r="1.42"/>
<circle cx="419.46" cy="814.72" r="1.42"/>
<circle cx="425.04" cy="815.58" r="1.42"/>
<circle cx="422.9" cy="818.79" r="1.42"/>
<circle cx="419.46" cy="820.94" r="1.42"/>
<circle cx="421.18" cy="834.88" r="1.42"/>
<circle cx="421.18" cy="841.1" r="1.42"/>
<circle cx="421.18" cy="871.55" r="1.42"/>
<circle cx="421" cy="900" r="1.42"/>
<circle cx="546.76" cy="742.9" r="1.42"/>
<circle cx="539.03" cy="745.47" r="1.42"/>
<circle cx="542.9" cy="746.54" r="1.42"/>
<circle cx="539.03" cy="763.7" r="1.42"/>
<circle cx="542.9" cy="763.7" r="1.42"/>
<circle cx="546.76" cy="763.7" r="1.42"/>
<circle cx="540.75" cy="770.78" r="1.42"/>
<circle cx="544.61" cy="774.64" r="1.42"/>
<circle cx="542.9" cy="784.72" r="1.42"/>
<circle cx="542.9" cy="793.73" r="1.42"/>
<circle cx="539.03" cy="803.38" r="1.42"/>
<circle cx="542.9" cy="803.38" r="1.42"/>
<circle cx="546.76" cy="803.38" r="1.42"/>
<circle cx="542.9" cy="811.96" r="1.42"/>
<circle cx="544.61" cy="814.75" r="1.42"/>
<circle cx="541.18" cy="818.18" r="1.42"/>
<circle cx="542.9" cy="832.98" r="1.42"/>
<circle cx="542.9" cy="851.85" r="1.42"/>
<circle cx="542.9" cy="858.93" r="1.42"/>
<circle cx="542.9" cy="872.01" r="1.42"/>
<circle cx="665.05" cy="748.69" r="1.42"/>
<circle cx="666.77" cy="776.78" r="1.42"/>
<circle cx="663.34" cy="779.79" r="1.42"/>
<circle cx="663.34" cy="784.08" r="1.42"/>
<circle cx="666.77" cy="784.08" r="1.42"/>
<circle cx="658.19" cy="795.44" r="1.42"/>
<circle cx="671.92" cy="795.44" r="1.42"/>
<circle cx="660.76" cy="797.59" r="1.42"/>
<circle cx="669.34" cy="797.59" r="1.42"/>
<circle cx="663.34" cy="798.66" r="1.42"/>
<circle cx="666.77" cy="798.66" r="1.42"/>
<circle cx="659.05" cy="810.46" r="1.42"/>
<circle cx="662.05" cy="810.46" r="1.42"/>
<circle cx="665.05" cy="810.46" r="1.42"/>
<circle cx="668.06" cy="810.46" r="1.42"/>
<circle cx="671.06" cy="810.46" r="1.42"/>
<circle cx="665.05" cy="826.97" r="1.42"/>
<circle cx="665.05" cy="831.26" r="1.42"/>
<circle cx="665.05" cy="842.41" r="1.42"/>
<circle cx="665.05" cy="861.07" r="1.42"/>
<circle cx="464.8" cy="1005.32" r="1.42"/>
<circle cx="464.8" cy="1010.22" r="1.42"/>
<circle cx="464.8" cy="1016.01" r="1.42"/>
<circle cx="466.2" cy="1020.21" r="1.42"/>
<circle cx="463.04" cy="1024.24" r="1.42"/>
<circle cx="464.8" cy="1028.62" r="1.42"/>
<circle cx="458.67" cy="1030.72" r="1.42"/>
<circle cx="470.93" cy="1030.72" r="1.42"/>
<circle cx="463.4" cy="1033.88" r="1.42"/>
<circle cx="461.29" cy="1041.41" r="1.42"/>
<circle cx="468.3" cy="1041.41" r="1.42"/>
<circle cx="464.8" cy="1044.74" r="1.42"/>
<circle cx="466.9" cy="1047.01" r="1.42"/>
<circle cx="463.04" cy="1049.99" r="1.42"/>
<circle cx="464.8" cy="1065.41" r="1.42"/>
<circle cx="464.8" cy="1072.94" r="1.42"/>
<circle cx="464.6" cy="868.5" r="1.42"/>
<circle cx="492.65" cy="955.91" r="1.42"/>
<circle cx="488.8" cy="958.02" r="1.42"/>
<circle cx="490.55" cy="1004.97" r="1.42"/>
<circle cx="483.89" cy="1020.39" r="1.42"/>
<circle cx="487.22" cy="1020.39" r="1.42"/>
<circle cx="493.88" cy="1020.39" r="1.42"/>
<circle cx="497.21" cy="1020.39" r="1.42"/>
<circle cx="490.55" cy="1025.12" r="1.42"/>
<circle cx="488.8" cy="1028.62" r="1.42"/>
<circle cx="486.7" cy="1034.75" r="1.42"/>
<circle cx="492.3" cy="1034.75" r="1.42"/>
<circle cx="484.94" cy="1037.38" r="1.42"/>
<circle cx="494.4" cy="1037.38" r="1.42"/>
<circle cx="488.8" cy="1039.13" r="1.42"/>
<circle cx="494.4" cy="1039.66" r="1.42"/>
<circle cx="492.65" cy="1040.53" r="1.42"/>
<circle cx="488.8" cy="1043.51" r="1.42"/>
<circle cx="490.55" cy="1050.52" r="1.42"/>
<circle cx="490.55" cy="1066.64" r="1.42"/>
<circle cx="516.83" cy="951.01" r="1.42"/>
<circle cx="516.83" cy="962.05" r="1.42"/>
<circle cx="516.83" cy="991.83" r="1.42"/>
<circle cx="516.83" cy="1019.16" r="1.42"/>
<circle cx="516.83" cy="1030.02" r="1.42"/>
<circle cx="516.83" cy="1036.5" r="1.42"/>
<circle cx="515.08" cy="1042.63" r="1.42"/>
<circle cx="518.58" cy="1042.63" r="1.42"/>
<circle cx="520.68" cy="1045.26" r="1.42"/>
<circle cx="513.33" cy="1047.54" r="1.42"/>
<circle cx="517.7" cy="1048.77" r="1.42"/>
<circle cx="516.83" cy="1056.3" r="1.42"/>
<circle cx="520.68" cy="1060.15" r="1.42"/>
<circle cx="513.33" cy="1061.56" r="1.42"/>
<circle cx="516.83" cy="1064.01" r="1.42"/>
<circle cx="516.83" cy="1070.32" r="1.42"/>
<circle cx="586.56" cy="920.88" r="1.42"/>
<circle cx="586.56" cy="1000.57" r="1.42"/>
<circle cx="588.06" cy="1004.13" r="1.42"/>
<circle cx="585.06" cy="1006.57" r="1.42"/>
<circle cx="585.06" cy="1013.7" r="1.42"/>
<circle cx="588.06" cy="1014.63" r="1.42"/>
<circle cx="593.13" cy="1027.57" r="1.42"/>
<circle cx="585.06" cy="1029.07" r="1.42"/>
<circle cx="589.38" cy="1029.07" r="1.42"/>
<circle cx="583.19" cy="1030.95" r="1.42"/>
<circle cx="585.63" cy="1034.13" r="1.42"/>
<circle cx="591.25" cy="1035.63" r="1.42"/>
<circle cx="580.94" cy="1037.13" r="1.42"/>
<circle cx="588.81" cy="1037.13" r="1.42"/>
<circle cx="584.69" cy="1039.38" r="1.42"/>
<circle cx="590.31" cy="1046.51" r="1.42"/>
<circle cx="582.81" cy="1049.32" r="1.42"/>
<circle cx="586.56" cy="1049.32" r="1.42"/>
<circle cx="586.56" cy="1054.01" r="1.42"/>
<circle cx="612.44" cy="909.06" r="1.42"/>
<circle cx="612.44" cy="932.5" r="1.42"/>
<circle cx="612.44" cy="948.44" r="1.42"/>
<circle cx="609.07" cy="980.88" r="1.42"/>
<circle cx="612.44" cy="980.88" r="1.42"/>
<circle cx="615.82" cy="980.88" r="1.42"/>
<circle cx="612.44" cy="997.57" r="1.42"/>
<circle cx="612.44" cy="1004.32" r="1.42"/>
<circle cx="610.57" cy="1015.38" r="1.42"/>
<circle cx="608.69" cy="1018.76" r="1.42"/>
<circle cx="614.69" cy="1018.76" r="1.42"/>
<circle cx="616.57" cy="1019.7" r="1.42"/>
<circle cx="612.44" cy="1022.88" r="1.42"/>
<circle cx="612.44" cy="1032.82" r="1.42"/>
<circle cx="612.44" cy="1038.45" r="1.42"/>
<circle cx="610.57" cy="1043.51" r="1.42"/>
<circle cx="614.32" cy="1045.01" r="1.42"/>
<circle cx="612.44" cy="1049.7" r="1.42"/>
<circle cx="612.44" cy="1062.26" r="1.42"/>
<circle cx="612.44" cy="1072.76" r="1.42"/>
<circle cx="638.88" cy="897.25" r="1.42"/>
<circle cx="638.88" cy="951.82" r="1.42"/>
<circle cx="638.88" cy="998.13" r="1.42"/>
<circle cx="638.88" cy="1007.13" r="1.42"/>
<circle cx="638.88" cy="1024.76" r="1.42"/>
<circle cx="637" cy="1030.95" r="1.42"/>
<circle cx="641.13" cy="1032.26" r="1.42"/>
<circle cx="640.75" cy="1036.57" r="1.42"/>
<circle cx="637" cy="1039.76" r="1.42"/>
<circle cx="638.88" cy="1046.32" r="1.42"/>
<circle cx="638.88" cy="1054.39" r="1.42"/>
<circle cx="638.88" cy="1064.7" r="1.42"/>
<circle cx="635.13" cy="1068.07" r="1.42"/>
<circle cx="644.5" cy="1071.64" r="1.42"/>
<circle cx="639.82" cy="1072.76" r="1.42"/>
<circle cx="642.63" cy="1075.01" r="1.42"/>
<circle cx="635.13" cy="1076.51" r="1.42"/>
<circle cx="638.88" cy="1077.26" r="1.42"/>
<circle cx="638.88" cy="1081.01" r="1.42"/>
<circle cx="638.7" cy="839.6" r="1.42"/>
<circle cx="217.6" cy="1078.2" r="1.42"/>
<circle cx="222" cy="1078.2" r="1.42"/>
<circle cx="225" cy="1078.2" r="1.42"/>
<circle cx="214.6" cy="1079.6" r="1.42"/>
<circle cx="217.16" cy="1079.6" r="1.42"/>
<circle cx="219.72" cy="1079.6" r="1.42"/>
<circle cx="222.28" cy="1079.6" r="1.42"/>
<circle cx="224.84" cy="1079.6" r="1.42"/>
<circle cx="227.4" cy="1079.6" r="1.42"/>
<circle cx="213.2" cy="1080.8" r="1.42"/>
<circle cx="215.4" cy="1080.8" r="1.42"/>
<circle cx="217.6" cy="1080.8" r="1.42"/>
<circle cx="219.8" cy="1080.8" r="1.42"/>
<circle cx="222" cy="1080.8" r="1.42"/>
<circle cx="224.2" cy="1080.8" r="1.42"/>
<circle cx="226.4" cy="1080.8" r="1.42"/>
<circle cx="228.6" cy="1080.8" r="1.42"/>
<circle cx="213.6" cy="1082" r="1.42"/>
<circle cx="215.69" cy="1082" r="1.42"/>
<circle cx="217.77" cy="1082" r="1.42"/>
<circle cx="219.86" cy="1082" r="1.42"/>
<circle cx="221.94" cy="1082" r="1.42"/>
<circle cx="224.03" cy="1082" r="1.42"/>
<circle cx="226.11" cy="1082" r="1.42"/>
<circle cx="228.2" cy="1082" r="1.42"/>
<circle cx="239.4" cy="1078.2" r="1.42"/>
<circle cx="242" cy="1078.2" r="1.42"/>
<circle cx="251.6" cy="1078.2" r="1.42"/>
<circle cx="254.4" cy="1078.2" r="1.42"/>
<circle cx="239.6" cy="1079.6" r="1.42"/>
<circle cx="242.1" cy="1079.6" r="1.42"/>
<circle cx="244.6" cy="1079.6" r="1.42"/>
<circle cx="247.1" cy="1079.6" r="1.42"/>
<circle cx="249.6" cy="1079.6" r="1.42"/>
<circle cx="252.1" cy="1079.6" r="1.42"/>
<circle cx="254.6" cy="1079.6" r="1.42"/>
<circle cx="239.4" cy="1080.8" r="1.42"/>
<circle cx="241.6" cy="1080.8" r="1.42"/>
<circle cx="243.8" cy="1080.8" r="1.42"/>
<circle cx="246" cy="1080.8" r="1.42"/>
<circle cx="248.2" cy="1080.8" r="1.42"/>
<circle cx="250.4" cy="1080.8" r="1.42"/>
<circle cx="252.6" cy="1080.8" r="1.42"/>
<circle cx="254.8" cy="1080.8" r="1.42"/>
<circle cx="239.8" cy="1082" r="1.42"/>
<circle cx="241.89" cy="1082" r="1.42"/>
<circle cx="243.97" cy="1082" r="1.42"/>
<circle cx="246.06" cy="1082" r="1.42"/>
<circle cx="248.14" cy="1082" r="1.42"/>
<circle cx="250.23" cy="1082" r="1.42"/>
<circle cx="252.31" cy="1082" r="1.42"/>
<circle cx="254.4" cy="1082" r="1.42"/>
<circle cx="271.4" cy="1078.6" r="1.42"/>
<circle cx="275.4" cy="1078.6" r="1.42"/>
<circle cx="267.7" cy="1079.8" r="1.42"/>
<circle cx="269.96" cy="1079.8" r="1.42"/>
<circle cx="272.22" cy="1079.8" r="1.42"/>
<circle cx="274.48" cy="1079.8" r="1.42"/>
<circle cx="276.74" cy="1079.8" r="1.42"/>
<circle cx="279" cy="1079.8" r="1.42"/>
<circle cx="265.6" cy="1081" r="1.42"/>
<circle cx="267.8" cy="1081" r="1.42"/>
<circle cx="270" cy="1081" r="1.42"/>
<circle cx="272.2" cy="1081" r="1.42"/>
<circle cx="274.4" cy="1081" r="1.42"/>
<circle cx="276.6" cy="1081" r="1.42"/>
<circle cx="278.8" cy="1081" r="1.42"/>
<circle cx="281" cy="1081" r="1.42"/>
<circle cx="266" cy="1082.1" r="1.42"/>
<circle cx="268.09" cy="1082.1" r="1.42"/>
<circle cx="270.17" cy="1082.1" r="1.42"/>
<circle cx="272.26" cy="1082.1" r="1.42"/>
<circle cx="274.34" cy="1082.1" r="1.42"/>
<circle cx="276.43" cy="1082.1" r="1.42"/>
<circle cx="278.51" cy="1082.1" r="1.42"/>
<circle cx="280.6" cy="1082.1" r="1.42"/>
<circle cx="342.3" cy="1073.4" r="1.42"/>
<circle cx="338.9" cy="1076.6" r="1.42"/>
<circle cx="342.3" cy="1076.6" r="1.42"/>
<circle cx="345.9" cy="1076.6" r="1.42"/>
<circle cx="336.5" cy="1078.4" r="1.42"/>
<circle cx="339.02" cy="1078.4" r="1.42"/>
<circle cx="341.54" cy="1078.4" r="1.42"/>
<circle cx="344.06" cy="1078.4" r="1.42"/>
<circle cx="346.58" cy="1078.4" r="1.42"/>
<circle cx="349.1" cy="1078.4" r="1.42"/>
<circle cx="335.1" cy="1079.8" r="1.42"/>
<circle cx="337.3" cy="1079.8" r="1.42"/>
<circle cx="339.5" cy="1079.8" r="1.42"/>
<circle cx="341.7" cy="1079.8" r="1.42"/>
<circle cx="343.9" cy="1079.8" r="1.42"/>
<circle cx="346.1" cy="1079.8" r="1.42"/>
<circle cx="348.3" cy="1079.8" r="1.42"/>
<circle cx="350.5" cy="1079.8" r="1.42"/>
<circle cx="335.5" cy="1081" r="1.42"/>
<circle cx="337.59" cy="1081" r="1.42"/>
<circle cx="339.67" cy="1081" r="1.42"/>
<circle cx="341.76" cy="1081" r="1.42"/>
<circle cx="343.84" cy="1081" r="1.42"/>
<circle cx="345.93" cy="1081" r="1.42"/>
<circle cx="348.01" cy="1081" r="1.42"/>
<circle cx="350.1" cy="1081" r="1.42"/>
<circle cx="335.1" cy="1082.1" r="1.42"/>
<circle cx="337.3" cy="1082.1" r="1.42"/>
<circle cx="339.5" cy="1082.1" r="1.42"/>
<circle cx="341.7" cy="1082.1" r="1.42"/>
<circle cx="343.9" cy="1082.1" r="1.42"/>
<circle cx="346.1" cy="1082.1" r="1.42"/>
<circle cx="348.3" cy="1082.1" r="1.42"/>
<circle cx="350.5" cy="1082.1" r="1.42"/>
<circle cx="366.7" cy="1074.4" r="1.42"/>
<circle cx="370.3" cy="1074.4" r="1.42"/>
<circle cx="360.9" cy="1075.8" r="1.42"/>
<circle cx="363.3" cy="1075.8" r="1.42"/>
<circle cx="374.3" cy="1075.8" r="1.42"/>
<circle cx="376.7" cy="1075.8" r="1.42"/>
<circle cx="361.9" cy="1077" r="1.42"/>
<circle cx="364.3" cy="1077" r="1.42"/>
<circle cx="366.5" cy="1077" r="1.42"/>
<circle cx="371.1" cy="1077" r="1.42"/>
<circle cx="373.3" cy="1077" r="1.42"/>
<circle cx="375.7" cy="1077" r="1.42"/>
<circle cx="363.1" cy="1078.2" r="1.42"/>
<circle cx="365.3" cy="1078.2" r="1.42"/>
<circle cx="367.5" cy="1078.2" r="1.42"/>
<circle cx="370.1" cy="1078.2" r="1.42"/>
<circle cx="372.3" cy="1078.2" r="1.42"/>
<circle cx="374.5" cy="1078.2" r="1.42"/>
<circle cx="364.5" cy="1079.4" r="1.42"/>
<circle cx="366.7" cy="1079.4" r="1.42"/>
<circle cx="368.9" cy="1079.4" r="1.42"/>
<circle cx="371.1" cy="1079.4" r="1.42"/>
<circle cx="373.1" cy="1079.4" r="1.42"/>
<circle cx="366.3" cy="1080.4" r="1.42"/>
<circle cx="368.7" cy="1080.4" r="1.42"/>
<circle cx="371.1" cy="1080.4" r="1.42"/>
<circle cx="390.7" cy="1072.4" r="1.42"/>
<circle cx="398.7" cy="1072.4" r="1.42"/>
<circle cx="394.9" cy="1073.8" r="1.42"/>
<circle cx="387.7" cy="1073.8" r="1.42"/>
<circle cx="402.7" cy="1073.8" r="1.42"/>
<circle cx="391.7" cy="1075.4" r="1.42"/>
<circle cx="397.5" cy="1075.4" r="1.42"/>
<circle cx="400.9" cy="1075.4" r="1.42"/>
<circle cx="387.7" cy="1077" r="1.42"/>
<circle cx="390.7" cy="1077" r="1.42"/>
<circle cx="393.7" cy="1077" r="1.42"/>
<circle cx="396.7" cy="1077" r="1.42"/>
<circle cx="399.7" cy="1077" r="1.42"/>
<circle cx="402.7" cy="1077" r="1.42"/>
<circle cx="387.5" cy="1078.6" r="1.42"/>
<circle cx="389.7" cy="1078.6" r="1.42"/>
<circle cx="391.9" cy="1078.6" r="1.42"/>
<circle cx="394.1" cy="1078.6" r="1.42"/>
<circle cx="396.3" cy="1078.6" r="1.42"/>
<circle cx="398.5" cy="1078.6" r="1.42"/>
<circle cx="400.7" cy="1078.6" r="1.42"/>
<circle cx="402.9" cy="1078.6" r="1.42"/>
<circle cx="388.1" cy="1080.2" r="1.42"/>
<circle cx="390.47" cy="1080.2" r="1.42"/>
<circle cx="392.83" cy="1080.2" r="1.42"/>
<circle cx="395.2" cy="1080.2" r="1.42"/>
<circle cx="397.57" cy="1080.2" r="1.42"/>
<circle cx="399.93" cy="1080.2" r="1.42"/>
<circle cx="402.3" cy="1080.2" r="1.42"/>
<circle cx="389.1" cy="1081.8" r="1.42"/>
<circle cx="391.54" cy="1081.8" r="1.42"/>
<circle cx="393.98" cy="1081.8" r="1.42"/>
<circle cx="396.42" cy="1081.8" r="1.42"/>
<circle cx="398.86" cy="1081.8" r="1.42"/>
<circle cx="401.3" cy="1081.8" r="1.42"/>
</g>
<line x1="98.9" y1="1022.25" x2="98.9" y2="1032.33" stroke="#000" stroke-width="1.4" stroke-linecap="butt"/>
<line x1="94.2" y1="1022.25" x2="103.6" y2="1022.25" stroke="#000" stroke-width="1.4" stroke-linecap="butt"/>
<line x1="94.2" y1="1032.33" x2="103.6" y2="1032.33" stroke="#000" stroke-width="1.4" stroke-linecap="butt"/>
<line x1="125.1" y1="1015.8" x2="125.1" y2="1025.89" stroke="#000" stroke-width="1.4" stroke-linecap="butt"/>
<line x1="120.4" y1="1015.8" x2="129.8" y2="1015.8" stroke="#000" stroke-width="1.4" stroke-linecap="butt"/>
<line x1="120.4" y1="1025.89" x2="129.8" y2="1025.89" stroke="#000" stroke-width="1.4" stroke-linecap="butt"/>
<line x1="151.3" y1="1063.98" x2="151.3" y2="1068.46" stroke="#000" stroke-width="1.4" stroke-linecap="butt"/>
<line x1="146.6" y1="1063.98" x2="156" y2="1063.98" stroke="#000" stroke-width="1.4" stroke-linecap="butt"/>
<line x1="146.6" y1="1068.46" x2="156" y2="1068.46" stroke="#000" stroke-width="1.4" stroke-linecap="butt"/>
<line x1="177.5" y1="780.13" x2="177.5" y2="800.02" stroke="#000" stroke-width="1.4" stroke-linecap="butt"/>
<line x1="172.8" y1="780.13" x2="182.2" y2="780.13" stroke="#000" stroke-width="1.4" stroke-linecap="butt"/>
<line x1="172.8" y1="800.02" x2="182.2" y2="800.02" stroke="#000" stroke-width="1.4" stroke-linecap="butt"/>
<line x1="220.8" y1="1078.26" x2="220.8" y2="1079.94" stroke="#000" stroke-width="1.4" stroke-linecap="butt"/>
<line x1="216.1" y1="1078.26" x2="225.5" y2="1078.26" stroke="#000" stroke-width="1.4" stroke-linecap="butt"/>
<line x1="216.1" y1="1079.94" x2="225.5" y2="1079.94" stroke="#000" stroke-width="1.4" stroke-linecap="butt"/>
<line x1="247" y1="1077.42" x2="247" y2="1079.1" stroke="#000" stroke-width="1.4" stroke-linecap="butt"/>
<line x1="242.3" y1="1077.42" x2="251.7" y2="1077.42" stroke="#000" stroke-width="1.4" stroke-linecap="butt"/>
<line x1="242.3" y1="1079.1" x2="251.7" y2="1079.1" stroke="#000" stroke-width="1.4" stroke-linecap="butt"/>
<line x1="273.2" y1="1077.98" x2="273.2" y2="1079.66" stroke="#000" stroke-width="1.4" stroke-linecap="butt"/>
<line x1="268.5" y1="1077.98" x2="277.9" y2="1077.98" stroke="#000" stroke-width="1.4" stroke-linecap="butt"/>
<line x1="268.5" y1="1079.66" x2="277.9" y2="1079.66" stroke="#000" stroke-width="1.4" stroke-linecap="butt"/>
<line x1="299.4" y1="726.36" x2="299.4" y2="752.41" stroke="#000" stroke-width="1.4" stroke-linecap="butt"/>
<line x1="294.7" y1="726.36" x2="304.1" y2="726.36" stroke="#000" stroke-width="1.4" stroke-linecap="butt"/>
<line x1="294.7" y1="752.41" x2="304.1" y2="752.41" stroke="#000" stroke-width="1.4" stroke-linecap="butt"/>
<line x1="342.7" y1="1078.54" x2="342.7" y2="1080.22" stroke="#000" stroke-width="1.4" stroke-linecap="butt"/>
<line x1="338" y1="1078.54" x2="347.4" y2="1078.54" stroke="#000" stroke-width="1.4" stroke-linecap="butt"/>
<line x1="338" y1="1080.22" x2="347.4" y2="1080.22" stroke="#000" stroke-width="1.4" stroke-linecap="butt"/>
<line x1="368.9" y1="1076.02" x2="368.9" y2="1077.7" stroke="#000" stroke-width="1.4" stroke-linecap="butt"/>
<line x1="364.2" y1="1076.02" x2="373.6" y2="1076.02" stroke="#000" stroke-width="1.4" stroke-linecap="butt"/>
<line x1="364.2" y1="1077.7" x2="373.6" y2="1077.7" stroke="#000" stroke-width="1.4" stroke-linecap="butt"/>
<line x1="395.1" y1="1076.86" x2="395.1" y2="1079.1" stroke="#000" stroke-width="1.4" stroke-linecap="butt"/>
<line x1="390.4" y1="1076.86" x2="399.8" y2="1076.86" stroke="#000" stroke-width="1.4" stroke-linecap="butt"/>
<line x1="390.4" y1="1079.1" x2="399.8" y2="1079.1" stroke="#000" stroke-width="1.4" stroke-linecap="butt"/>
<line x1="421.3" y1="790.63" x2="421.3" y2="812.48" stroke="#000" stroke-width="1.4" stroke-linecap="butt"/>
<line x1="416.6" y1="790.63" x2="426" y2="790.63" stroke="#000" stroke-width="1.4" stroke-linecap="butt"/>
<line x1="416.6" y1="812.48" x2="426" y2="812.48" stroke="#000" stroke-width="1.4" stroke-linecap="butt"/>
<line x1="464.6" y1="1015.52" x2="464.6" y2="1035.69" stroke="#000" stroke-width="1.4" stroke-linecap="butt"/>
<line x1="459.9" y1="1015.52" x2="469.3" y2="1015.52" stroke="#000" stroke-width="1.4" stroke-linecap="butt"/>
<line x1="459.9" y1="1035.69" x2="469.3" y2="1035.69" stroke="#000" stroke-width="1.4" stroke-linecap="butt"/>
<line x1="490.8" y1="1018.89" x2="490.8" y2="1031.21" stroke="#000" stroke-width="1.4" stroke-linecap="butt"/>
<line x1="486.1" y1="1018.89" x2="495.5" y2="1018.89" stroke="#000" stroke-width="1.4" stroke-linecap="butt"/>
<line x1="486.1" y1="1031.21" x2="495.5" y2="1031.21" stroke="#000" stroke-width="1.4" stroke-linecap="butt"/>
<line x1="517" y1="1025.19" x2="517" y2="1041.71" stroke="#000" stroke-width="1.4" stroke-linecap="butt"/>
<line x1="512.3" y1="1025.19" x2="521.7" y2="1025.19" stroke="#000" stroke-width="1.4" stroke-linecap="butt"/>
<line x1="512.3" y1="1041.71" x2="521.7" y2="1041.71" stroke="#000" stroke-width="1.4" stroke-linecap="butt"/>
<line x1="543.2" y1="787.27" x2="543.2" y2="804.08" stroke="#000" stroke-width="1.4" stroke-linecap="butt"/>
<line x1="538.5" y1="787.27" x2="547.9" y2="787.27" stroke="#000" stroke-width="1.4" stroke-linecap="butt"/>
<line x1="538.5" y1="804.08" x2="547.9" y2="804.08" stroke="#000" stroke-width="1.4" stroke-linecap="butt"/>
<line x1="586.5" y1="1018.33" x2="586.5" y2="1030.65" stroke="#000" stroke-width="1.4" stroke-linecap="butt"/>
<line x1="581.8" y1="1018.33" x2="591.2" y2="1018.33" stroke="#000" stroke-width="1.4" stroke-linecap="butt"/>
<line x1="581.8" y1="1030.65" x2="591.2" y2="1030.65" stroke="#000" stroke-width="1.4" stroke-linecap="butt"/>
<line x1="612.7" y1="998.44" x2="612.7" y2="1018.61" stroke="#000" stroke-width="1.4" stroke-linecap="butt"/>
<line x1="608" y1="998.44" x2="617.4" y2="998.44" stroke="#000" stroke-width="1.4" stroke-linecap="butt"/>
<line x1="608" y1="1018.61" x2="617.4" y2="1018.61" stroke="#000" stroke-width="1.4" stroke-linecap="butt"/>
<line x1="638.9" y1="1013" x2="638.9" y2="1041.57" stroke="#000" stroke-width="1.4" stroke-linecap="butt"/>
<line x1="634.2" y1="1013" x2="643.6" y2="1013" stroke="#000" stroke-width="1.4" stroke-linecap="butt"/>
<line x1="634.2" y1="1041.57" x2="643.6" y2="1041.57" stroke="#000" stroke-width="1.4" stroke-linecap="butt"/>
<line x1="665.1" y1="798.76" x2="665.1" y2="808.28" stroke="#000" stroke-width="1.4" stroke-linecap="butt"/>
<line x1="660.4" y1="798.76" x2="669.8" y2="798.76" stroke="#000" stroke-width="1.4" stroke-linecap="butt"/>
<line x1="660.4" y1="808.28" x2="669.8" y2="808.28" stroke="#000" stroke-width="1.4" stroke-linecap="butt"/>
<line x1="82.8" y1="635.35" x2="82.8" y2="1085.95" stroke="#000" stroke-width="2.5" stroke-linecap="butt"/>
<line x1="74.9" y1="636.6" x2="685" y2="636.6" stroke="#000" stroke-width="2.5" stroke-linecap="butt"/>
<line x1="684.2" y1="635.35" x2="684.2" y2="1087" stroke="#000" stroke-width="2.5" stroke-linecap="butt"/>
<line x1="74.9" y1="1084.7" x2="685" y2="1084.7" stroke="#000" stroke-width="2.5" stroke-linecap="butt"/>
<text x="67.7" y="1090.7" font-size="20.3" font-weight="bold" text-anchor="end" fill="#000">0</text>
<line x1="74.9" y1="1028.69" x2="82.8" y2="1028.69" stroke="#000" stroke-width="2.5" stroke-linecap="butt"/>
<text x="67.7" y="1034.69" font-size="20.3" font-weight="bold" text-anchor="end" fill="#000">20</text>
<line x1="74.9" y1="972.68" x2="82.8" y2="972.68" stroke="#000" stroke-width="2.5" stroke-linecap="butt"/>
<text x="67.7" y="978.68" font-size="20.3" font-weight="bold" text-anchor="end" fill="#000">40</text>
<line x1="74.9" y1="916.66" x2="82.8" y2="916.66" stroke="#000" stroke-width="2.5" stroke-linecap="butt"/>
<text x="67.7" y="922.66" font-size="20.3" font-weight="bold" text-anchor="end" fill="#000">60</text>
<line x1="74.9" y1="860.65" x2="82.8" y2="860.65" stroke="#000" stroke-width="2.5" stroke-linecap="butt"/>
<text x="67.7" y="866.65" font-size="20.3" font-weight="bold" text-anchor="end" fill="#000">80</text>
<line x1="74.9" y1="804.64" x2="82.8" y2="804.64" stroke="#000" stroke-width="2.5" stroke-linecap="butt"/>
<text x="67.7" y="810.64" font-size="20.3" font-weight="bold" text-anchor="end" fill="#000">100</text>
<line x1="74.9" y1="748.62" x2="82.8" y2="748.62" stroke="#000" stroke-width="2.5" stroke-linecap="butt"/>
<text x="67.7" y="754.62" font-size="20.3" font-weight="bold" text-anchor="end" fill="#000">120</text>
<line x1="74.9" y1="692.61" x2="82.8" y2="692.61" stroke="#000" stroke-width="2.5" stroke-linecap="butt"/>
<text x="67.7" y="698.61" font-size="20.3" font-weight="bold" text-anchor="end" fill="#000">140</text>
<text x="67.7" y="642.6" font-size="20.3" font-weight="bold" text-anchor="end" fill="#000">160</text>
<line x1="138.4" y1="1084.7" x2="138.4" y2="1092.3" stroke="#000" stroke-width="2.5" stroke-linecap="butt"/>
<line x1="260.4" y1="1084.7" x2="260.4" y2="1092.3" stroke="#000" stroke-width="2.5" stroke-linecap="butt"/>
<line x1="382.3" y1="1084.7" x2="382.3" y2="1092.3" stroke="#000" stroke-width="2.5" stroke-linecap="butt"/>
<line x1="504.2" y1="1084.7" x2="504.2" y2="1092.3" stroke="#000" stroke-width="2.5" stroke-linecap="butt"/>
<line x1="626.1" y1="1084.7" x2="626.1" y2="1092.3" stroke="#000" stroke-width="2.5" stroke-linecap="butt"/>
<text x="139" y="1115.8" font-size="20.4" font-weight="bold" text-anchor="middle" fill="#000">WT</text>
<text x="260.3" y="1116" font-size="20" font-weight="bold" text-anchor="middle"><tspan font-weight="normal">Δ</tspan><tspan font-style="italic">mfsG</tspan>-1</text>
<text x="382.4" y="1116" font-size="20" font-weight="bold" text-anchor="middle"><tspan font-weight="normal">Δ</tspan><tspan font-style="italic">mfsG</tspan>-2</text>
<text x="504.6" y="1115.8" font-size="20.4" font-weight="bold" text-anchor="middle" fill="#000">Comp1</text>
<text x="625.7" y="1115.8" font-size="20.4" font-weight="bold" text-anchor="middle" fill="#000">Comp2</text>
<text transform="translate(19.3,951.8) rotate(-90)" font-size="20.2" font-weight="bold">Lession size (mm<tspan font-size="12.6" dy="-9.6">2</tspan><tspan dy="9.6">)</tspan></text>
<text x="99.6" y="952.6" font-size="16" font-weight="normal" text-anchor="middle" fill="#000">d</text>
<text x="127.7" y="936.4" font-size="16" font-weight="normal" text-anchor="middle" fill="#000">d</text>
<text x="153.6" y="1005.1" font-size="16" font-weight="normal" text-anchor="middle" fill="#000">e</text>
<text x="180.3" y="724" font-size="16" font-weight="normal" text-anchor="middle" fill="#000">ab</text>
<text x="222" y="1052.2" font-size="16" font-weight="normal" text-anchor="middle" fill="#000">e</text>
<text x="247.6" y="1054.4" font-size="16" font-weight="normal" text-anchor="middle" fill="#000">e</text>
<text x="271.6" y="1052.8" font-size="16" font-weight="normal" text-anchor="middle" fill="#000">e</text>
<text x="299.9" y="675.5" font-size="16" font-weight="normal" text-anchor="middle" fill="#000">a</text>
<text x="346" y="1052.2" font-size="16" font-weight="normal" text-anchor="middle" fill="#000">e</text>
<text x="369.2" y="1052.2" font-size="16" font-weight="normal" text-anchor="middle" fill="#000">e</text>
<text x="396.4" y="1049.8" font-size="16" font-weight="normal" text-anchor="middle" fill="#000">e</text>
<text x="419.9" y="673.6" font-size="16" font-weight="normal" text-anchor="middle" fill="#000">b</text>
<text x="466.9" y="936.6" font-size="16" font-weight="normal" text-anchor="middle" fill="#000">d</text>
<text x="490.9" y="936.6" font-size="16" font-weight="normal" text-anchor="middle" fill="#000">d</text>
<text x="517.6" y="925.2" font-size="16" font-weight="normal" text-anchor="middle" fill="#000">de</text>
<text x="542.9" y="723.6" font-size="16" font-weight="normal" text-anchor="middle" fill="#000">b</text>
<text x="588.4" y="902.1" font-size="16" font-weight="normal" text-anchor="middle" fill="#000">d</text>
<text x="612.5" y="857.2" font-size="16" font-weight="normal" text-anchor="middle" fill="#000">d</text>
<text x="638.9" y="816.9" font-size="16" font-weight="normal" text-anchor="middle" fill="#000">d</text>
<text x="665.7" y="723.6" font-size="16" font-weight="normal" text-anchor="middle" fill="#000">bc</text>
</g>
</svg>
</body></html>
